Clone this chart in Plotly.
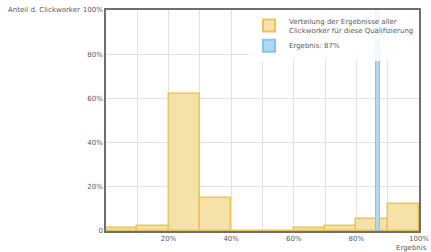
import plotly.graph_objects as go

# Data
bin_centers = [5, 15, 25, 35, 45, 55, 65, 75, 85, 95]
shares = [1.2, 2.3, 62.1, 15.1, 0.2, 0.2, 1.2, 2.1, 5.3, 12.2]
result_value = [87]
result_height = [100]
x_tickvals = [10, 20, 30, 40, 50, 60, 70, 80, 90, 100]
x_ticktext = ["", "20%", "", "40%", "", "60%", "", "80%", "", "100%"]
y_tickvals = [0, 20, 40, 60, 80, 100]
y_ticktext = ["0", "20%", "40%", "60%", "80%", "100%"]

FONT = "DejaVu Sans"
TXT = "#5a5a5a"

fig = go.Figure()
fig.add_trace(go.Bar(
    x=bin_centers, y=shares, width=10,
    marker=dict(color="#f4e2a9", line=dict(color="#ebc35b", width=1.5)),
    name="Verteilung der Ergebnisse aller<br>Clickworker für diese Qualifizierung",
))
fig.add_trace(go.Bar(
    x=result_value, y=result_height, width=1.3,
    marker=dict(color="#aed8f4", line=dict(color="#86c6ee", width=1)),
    name="Ergebnis: 87%",
))

fig.update_layout(
    width=431, height=252,
    margin=dict(l=106, r=12, t=10, b=21),
    paper_bgcolor="white", plot_bgcolor="white",
    barmode="overlay", bargap=0,
    font=dict(family=FONT, size=7, color=TXT),
    legend=dict(
        x=1, y=1, xanchor="right", yanchor="top",
        bgcolor="rgba(255,255,255,0.85)",
        font=dict(family=FONT, size=7, color=TXT),
        itemsizing="constant", tracegroupgap=3,
        traceorder="normal",
    ),
    xaxis=dict(
        range=[0, 100], tickvals=x_tickvals, ticktext=x_ticktext,
        showgrid=True, gridcolor="#e2e2e2", gridwidth=1,
        showline=True, linecolor="#6e6e6e", linewidth=1.5, mirror=True,
        ticks="", zeroline=False, tickfont=dict(size=7, color=TXT),
        automargin=False,
    ),
    yaxis=dict(
        range=[0, 100], tickvals=y_tickvals, ticktext=y_ticktext,
        showgrid=True, gridcolor="#e2e2e2", gridwidth=1,
        showline=True, linecolor="#6e6e6e", linewidth=1.5, mirror=True,
        ticks="", zeroline=False, tickfont=dict(size=7, color=TXT),
        automargin=False,
    ),
    annotations=[
        dict(text="Anteil d. Clickworker", xref="paper", yref="y",
             x=0, y=100, xshift=-24, xanchor="right", yanchor="middle",
             showarrow=False, font=dict(family=FONT, size=7, color=TXT)),
        dict(text="Ergebnis", xref="x", yref="paper",
             x=100, y=0, xshift=10, yshift=-11, xanchor="right", yanchor="top",
             showarrow=False, font=dict(family=FONT, size=7, color=TXT)),
    ],
)

fig.write_html(
    "out.html",
    config={"displayModeBar": False},
    post_script="document.body.style.margin='0';document.body.style.overflow='hidden';",
)
